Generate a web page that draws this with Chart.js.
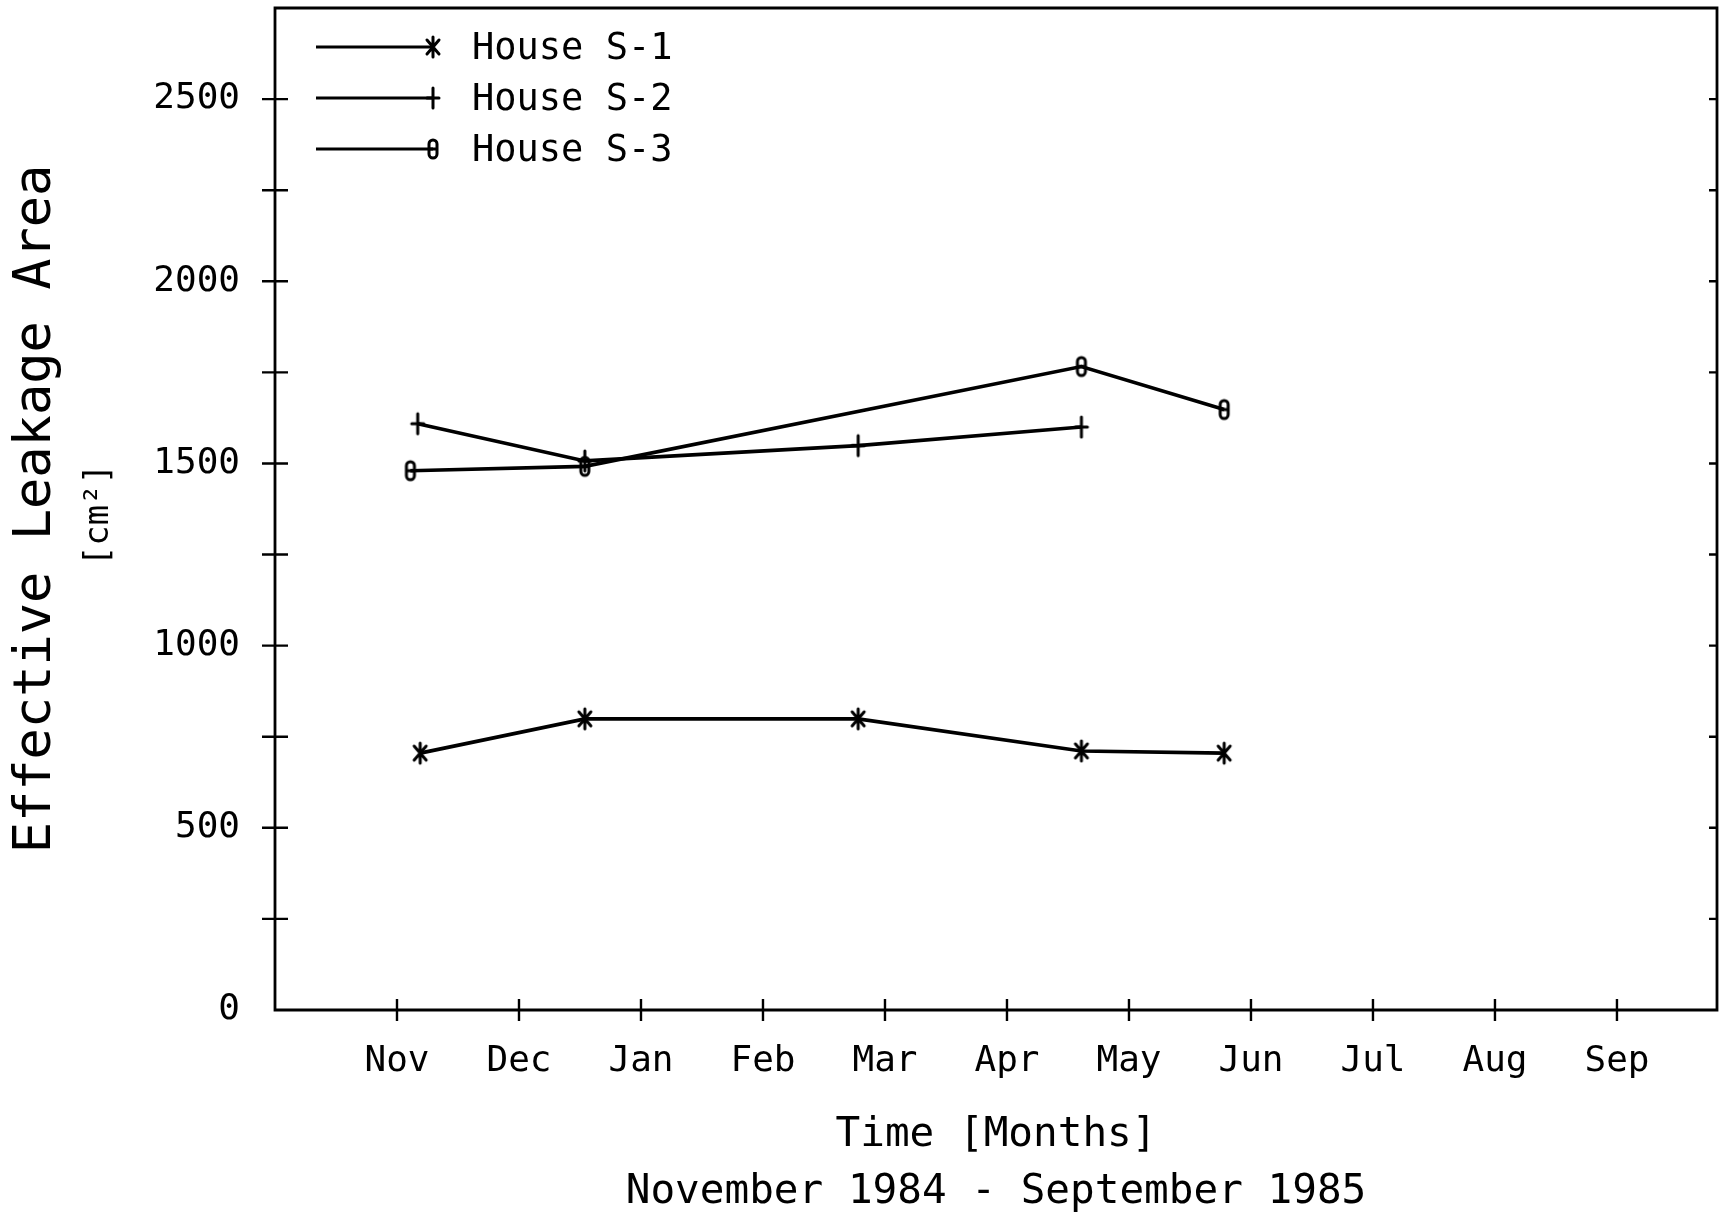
<!DOCTYPE html>
<html>
<head>
<meta charset="utf-8">
<script src="https://cdn.jsdelivr.net/npm/chart.js@4"></script>
<style>
  html, body { margin: 0; padding: 0; background: #fff; }
  #wrap { width: 1719px; height: 1214px; }
</style>
</head>
<body>
<div id="wrap"><canvas id="leakChart" width="1719" height="1214"></canvas></div>
<script>
// month ticks, Oct 1984 sits on the y axis (0), Nov = 1 ... Sep = 11
const monthLabels = ['', 'Nov', 'Dec', 'Jan', 'Feb', 'Mar', 'Apr', 'May', 'Jun', 'Jul', 'Aug', 'Sep'];
const seriesNames = ['House S-1', 'House S-2', 'House S-3'];

// House S-1
const s1Month = [1.19, 2.54, 4.78, 6.61, 7.78];
const s1Area = [705, 799, 799, 711, 705];
// House S-2
const s2Month = [1.17, 2.54, 4.78, 6.61];
const s2Area = [1609, 1507, 1549, 1600];
// House S-3
const s3Month = [1.11, 2.54, 6.61, 7.78];
const s3Area = [1480, 1492, 1766, 1648];

const yTickStep = 250;
const yLabelStep = 500;
const yMax = 2750;

const FONT = "'DejaVu Sans Mono', monospace";

function makeMarker(kind){
    let c = document.createElement('canvas');
    c.width = 18; c.height = 26;
    let g = c.getContext('2d');
    g.strokeStyle = '#000';
    g.lineWidth = 3;
    g.lineCap = 'round';
    g.beginPath();
    if(kind === 'asterisk'){
        g.moveTo(9, 3); g.lineTo(9, 23);
        g.moveTo(3, 6); g.lineTo(15, 20);
        g.moveTo(15, 6); g.lineTo(3, 20);
    } else if(kind === 'plus'){
        g.moveTo(9, 3); g.lineTo(9, 23);
        g.moveTo(3, 13); g.lineTo(15, 13);
    } else {
        g.moveTo(5, 8);
        g.arcTo(5, 4, 9, 4, 4);
        g.arcTo(13, 4, 13, 8, 4);
        g.lineTo(13, 18);
        g.arcTo(13, 22, 9, 22, 4);
        g.arcTo(5, 22, 5, 18, 4);
        g.closePath();
        g.moveTo(5, 13); g.lineTo(13, 13);
    }
    g.stroke();
    return c;
}

const markers = [makeMarker('asterisk'), makeMarker('plus'), makeMarker('theta')];

function toPoints(xs, ys){
    return xs.map(function(x, i){ return {x: x, y: ys[i]}; });
}

function lineSet(label, xs, ys, marker){
    return {
        label: label,
        data: toPoints(xs, ys),
        borderColor: '#000',
        backgroundColor: '#000',
        borderWidth: 3.6,
        tension: 0,
        fill: false,
        pointStyle: marker,
        pointRadius: 10,
        pointHoverRadius: 10
    };
}

function noEdgePadding(scale){
    scale.paddingTop = 0;
    scale.paddingBottom = 0;
    scale.paddingLeft = 0;
    scale.paddingRight = 0;
}

// frame, crossing tick marks, units label and the legend
const plotterDecor = {
    id: 'plotterDecor',
    afterDatasetsDraw(chart){
        let ctx = chart.ctx;
        let area = chart.chartArea;
        let xs = chart.scales.x;
        let ys = chart.scales.y;
        ctx.save();
        ctx.strokeStyle = '#000';
        ctx.lineWidth = 2.8;
        ctx.beginPath();
        ctx.rect(area.left, area.top, area.right - area.left, area.bottom - area.top);
        ctx.stroke();

        ctx.lineWidth = 2.4;
        ctx.beginPath();
        ys.ticks.forEach(function(t){
            if(t.value <= 0 || t.value >= ys.max) return;
            let py = ys.getPixelForValue(t.value);
            ctx.moveTo(area.left - 13, py); ctx.lineTo(area.left + 13, py);
            ctx.moveTo(area.right - 8, py); ctx.lineTo(area.right, py);
        });
        xs.ticks.forEach(function(t){
            if(t.value < 1) return;
            let px = xs.getPixelForValue(t.value);
            ctx.moveTo(px, area.bottom - 11); ctx.lineTo(px, area.bottom + 11);
        });
        ctx.stroke();

        // units under the y title
        ctx.fillStyle = '#000';
        ctx.font = '34px ' + FONT;
        ctx.textAlign = 'center';
        ctx.textBaseline = 'middle';
        ctx.save();
        ctx.translate(99, 515);
        ctx.rotate(-Math.PI / 2);
        ctx.fillText('[cm\u00B2]', 0, 0);
        ctx.restore();

        // legend: line ending in the marker, then the name
        ctx.font = '37px ' + FONT;
        ctx.textAlign = 'left';
        ctx.lineWidth = 3;
        chart.data.datasets.forEach(function(ds, i){
            let ly = 47 + i * 51;
            ctx.beginPath();
            ctx.moveTo(316, ly); ctx.lineTo(433, ly);
            ctx.stroke();
            let m = ds.pointStyle;
            ctx.drawImage(m, 433 - m.width / 2, ly - m.height / 2);
            ctx.fillText(ds.label, 472, ly + 2);
        });
        ctx.restore();
    }
};

let ctx = document.getElementById('leakChart').getContext('2d');
let leakChart = new Chart(ctx, {
    type: 'line',
    data: {
        datasets: [
            lineSet(seriesNames[0], s1Month, s1Area, markers[0]),
            lineSet(seriesNames[1], s2Month, s2Area, markers[1]),
            lineSet(seriesNames[2], s3Month, s3Area, markers[2])
        ]
    },
    options: {
        responsive: false,
        animation: false,
        layout: {
            autoPadding: false,
            padding: { top: 8, right: 2, left: 0, bottom: 0 }
        },
        plugins: {
            legend: { display: false },
            tooltip: { enabled: false }
        },
        scales: {
            x: {
                type: 'linear',
                min: 0,
                max: 11.82,
                grid: { display: false },
                border: { display: false },
                ticks: {
                    autoSkip: false,
                    maxRotation: 0,
                    padding: 22,
                    color: '#000',
                    font: { family: FONT, size: 36 },
                    callback: function(value){
                        return monthLabels[value] || '';
                    }
                },
                afterBuildTicks(scale){
                    scale.ticks = monthLabels.map(function(m, i){ return {value: i}; });
                },
                title: {
                    display: true,
                    text: ['Time [Months]', 'November 1984 - September 1985'],
                    color: '#000',
                    font: { family: FONT, size: 41, lineHeight: '57px' },
                    padding: { top: 0, bottom: -7 }
                },
                afterFit(scale){
                    scale.height = 204;
                    noEdgePadding(scale);
                }
            },
            y: {
                min: 0,
                max: yMax,
                grid: { display: false },
                border: { display: false },
                ticks: {
                    autoSkip: false,
                    padding: 27,
                    color: '#000',
                    font: { family: FONT, size: 36 },
                    callback: function(value){
                        return value % yLabelStep === 0 ? String(value) : '';
                    }
                },
                afterBuildTicks(scale){
                    let t = [];
                    for(let v = 0; v <= yMax; v += yTickStep){ t.push({value: v}); }
                    scale.ticks = t;
                },
                title: {
                    display: true,
                    text: 'Effective Leakage Area',
                    color: '#000',
                    font: { family: FONT, size: 52, lineHeight: 1.2 },
                    padding: { top: 5, bottom: 0 }
                },
                afterFit(scale){
                    scale.width = 275;
                    noEdgePadding(scale);
                }
            }
        }
    },
    plugins: [plotterDecor]
});
</script>
</body>
</html>
